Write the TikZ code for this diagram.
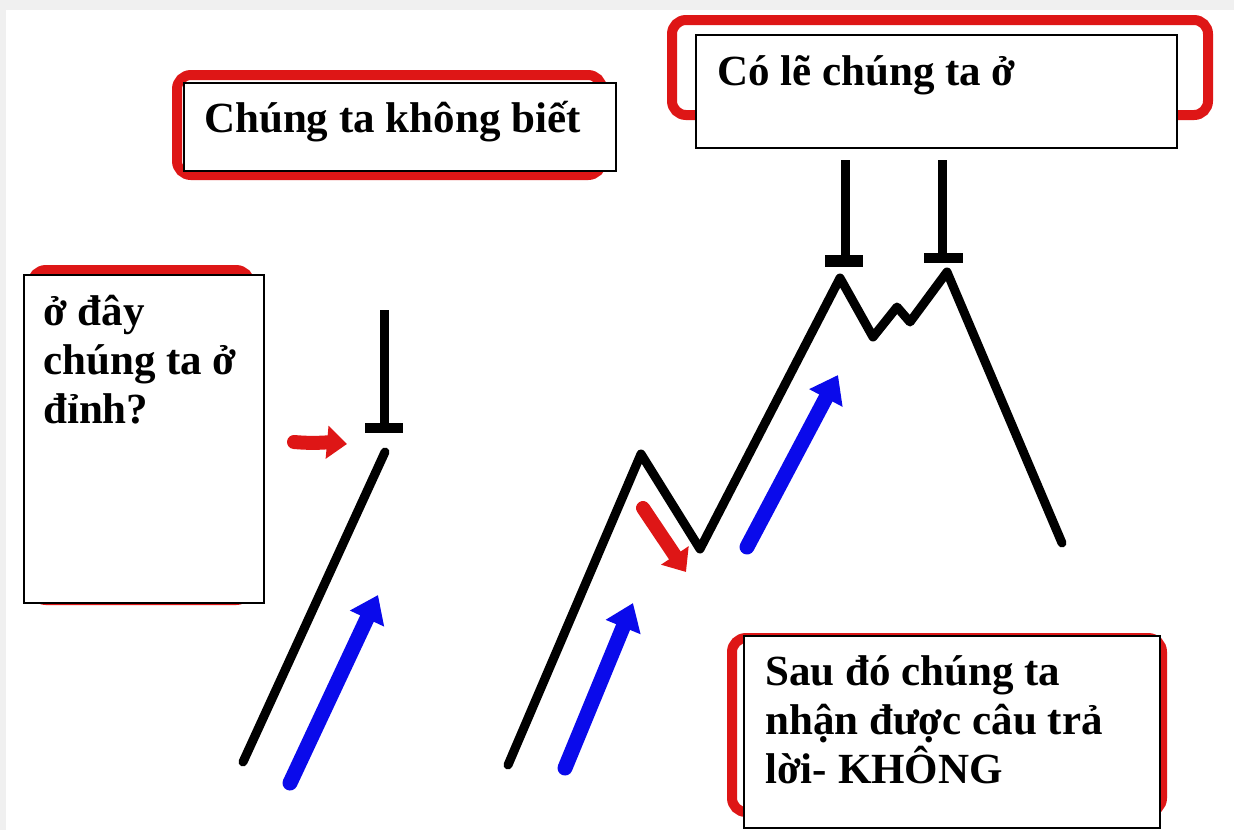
\documentclass[tikz,border=0pt]{standalone}
\usepackage{fontspec}
\setmainfont{Liberation Serif}
\usetikzlibrary{arrows.meta}
\definecolor{bgray}{HTML}{F0F0F0}
\definecolor{rbox}{RGB}{222,22,22}
\definecolor{barrow}{RGB}{10,10,235}
\begin{document}
\begin{tikzpicture}[x=1pt,y=-1pt,
  redframe/.style={draw=rbox, line width=10pt, rounded corners=14pt, fill=white},
  whitebox/.style={draw=black, line width=1.5pt, fill=white, inner sep=0pt, anchor=north west},
  lbl/.style={font=\bfseries\fontsize{43}{49}\selectfont, inner sep=0pt, anchor=base west, align=left},
  chart/.style={line width=9pt, line cap=round, line join=round},
  candle/.style={line width=9pt},
  upArrow/.style={draw=barrow, line width=15pt, line cap=round, -{Triangle[length=26pt,width=36pt]}},
  redArrow/.style={draw=rbox, line width=14pt, line cap=round, -{Triangle[length=20pt,width=32pt]}}]

\useasboundingbox (0,0) rectangle (1234,830);
\fill[bgray] (0,0) rectangle (1234,830);
\fill[white] (6,10) rectangle (1234,830);

% framed boxes
\draw[redframe] (177,75) rectangle (602,175);
\node[whitebox, minimum width=432pt, minimum height=88pt] (b1) at (183,82) {};
\draw[redframe] (672,20) rectangle (1208,115);
\node[whitebox, minimum width=481pt, minimum height=113pt] (b2) at (695,34) {};
\draw[redframe] (32,270) rectangle (250,600);
\node[whitebox, minimum width=240pt, minimum height=328pt] (b3) at (23,274) {};
\draw[redframe] (732,638) rectangle (1162,812);
\node[whitebox, minimum width=416pt, minimum height=192pt] (b4) at (743,635) {};

% texts (base anchor = baseline of last line)
\node[lbl] (t1) at (204,132) {Chúng ta không biết};
\node[lbl] (t2) at (717,85) {Có lẽ chúng ta ở};
\node[lbl] (t3) at (43,423) {ở đây\\chúng ta ở\\đỉnh?};
\node[lbl] (t4) at (765,783) {Sau đó chúng ta\\nhận được câu trả\\lời- KHÔNG};

% left chart
\coordinate (l0) at (243,762);
\coordinate (l1) at (385,452);
\draw[chart] (l0) -- (l1);
\coordinate (c1t) at (384,310);
\coordinate (c1b) at (384,428);
\draw[candle] (c1t) -- (c1b);
\fill (365,423) rectangle (403,433);

% middle chart
\coordinate (m0) at (508,765);
\coordinate (m1) at (641,454);
\coordinate (m2) at (700,549);
\coordinate (m3) at (840,278);
\coordinate (m4) at (873,337);
\coordinate (m5) at (897,307);
\coordinate (m6) at (910,322);
\coordinate (m7) at (947,272);
\coordinate (m8) at (1062,543);
\draw[chart] (m0) -- (m1) -- (m2) -- (m3) -- (m4) -- (m5) -- (m6) -- (m7) -- (m8);

\coordinate (c2t) at (845,160);
\coordinate (c2b) at (845,258);
\draw[candle] (c2t) -- (c2b);
\fill (825,255) rectangle (863,267);
\coordinate (c3t) at (942,160);
\coordinate (c3b) at (942,256);
\draw[candle] (c3t) -- (c3b);
\fill (924,253) rectangle (963,263);

% blue arrows
\coordinate (a1s) at (290,783); \coordinate (a1e) at (378,595);
\coordinate (a2s) at (565,768); \coordinate (a2e) at (633,603);
\coordinate (a3s) at (747,547); \coordinate (a3e) at (838,375);
\draw[upArrow] (a1s) -- (a1e);
\draw[upArrow] (a2s) -- (a2e);
\draw[upArrow] (a3s) -- (a3e);

% red arrows
\coordinate (r1s) at (294,442); \coordinate (r1e) at (347,444);
\coordinate (r2s) at (643,508); \coordinate (r2e) at (686,572);
\draw[redArrow] (r1s) to[out=-5,in=175] (r1e);
\draw[redArrow] (r2s) -- (r2e);
\end{tikzpicture}
\end{document}
